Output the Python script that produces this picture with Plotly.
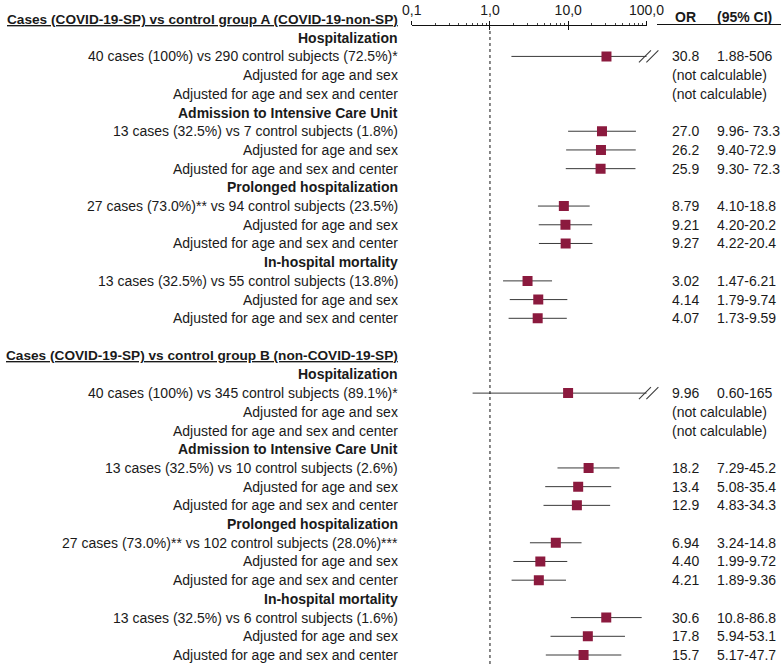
import plotly.graph_objects as go

# ---------------- data ----------------
row_labels = [
    "Cases (COVID-19-SP) vs control group A (COVID-19-non-SP)",
    "Hospitalization",
    "40 cases (100%) vs 290 control subjects (72.5%)*",
    "Adjusted for age and sex",
    "Adjusted for age and sex and center",
    "Admission to Intensive Care Unit",
    "13 cases (32.5%) vs 7 control subjects (1.8%)",
    "Adjusted for age and sex",
    "Adjusted for age and sex and center",
    "Prolonged hospitalization",
    "27 cases (73.0%)** vs 94 control subjects (23.5%)",
    "Adjusted for age and sex",
    "Adjusted for age and sex and center",
    "In-hospital mortality",
    "13 cases (32.5%) vs 55 control subjects (13.8%)",
    "Adjusted for age and sex",
    "Adjusted for age and sex and center",
    "",
    "Cases (COVID-19-SP) vs control group B (non-COVID-19-SP)",
    "Hospitalization",
    "40 cases (100%) vs 345 control subjects (89.1%)*",
    "Adjusted for age and sex",
    "Adjusted for age and sex and center",
    "Admission to Intensive Care Unit",
    "13 cases (32.5%) vs 10 control subjects (2.6%)",
    "Adjusted for age and sex",
    "Adjusted for age and sex and center",
    "Prolonged hospitalization",
    "27 cases (73.0%)** vs 102 control subjects (28.0%)***",
    "Adjusted for age and sex",
    "Adjusted for age and sex and center",
    "In-hospital mortality",
    "13 cases (32.5%) vs 6 control subjects (1.6%)",
    "Adjusted for age and sex",
    "Adjusted for age and sex and center",
]
# g = group header, s = section header, d = data row, b = blank
row_kinds = ["g", "s", "d", "d", "d", "s", "d", "d", "d", "s", "d", "d", "d", "s", "d", "d", "d",
             "b",
             "g", "s", "d", "d", "d", "s", "d", "d", "d", "s", "d", "d", "d", "s", "d", "d", "d"]

odds_ratio = [None, None, 30.8, None, None, None, 27.0, 26.2, 25.9, None, 8.79, 9.21, 9.27, None, 3.02, 4.14, 4.07,
              None,
              None, None, 9.96, None, None, None, 18.2, 13.4, 12.9, None, 6.94, 4.40, 4.21, None, 30.6, 17.8, 15.7]
ci_low = [None, None, 1.88, None, None, None, 9.96, 9.40, 9.30, None, 4.10, 4.20, 4.22, None, 1.47, 1.79, 1.73,
          None,
          None, None, 0.60, None, None, None, 7.29, 5.08, 4.83, None, 3.24, 1.99, 1.89, None, 10.8, 5.94, 5.17]
ci_high = [None, None, 506, None, None, None, 73.3, 72.9, 72.3, None, 18.8, 20.2, 20.4, None, 6.21, 9.74, 9.59,
           None,
           None, None, 165, None, None, None, 45.2, 35.4, 34.3, None, 14.8, 9.72, 9.36, None, 86.8, 53.1, 47.7]
or_text = ["", "", "30.8", "(not calculable)", "(not calculable)", "", "27.0", "26.2", "25.9", "", "8.79", "9.21", "9.27",
           "", "3.02", "4.14", "4.07",
           "",
           "", "", "9.96", "(not calculable)", "(not calculable)", "", "18.2", "13.4", "12.9", "", "6.94", "4.40",
           "4.21", "", "30.6", "17.8", "15.7"]
ci_text = ["", "", "1.88-506", "", "", "", "9.96- 73.3", "9.40-72.9", "9.30- 72.3", "", "4.10-18.8", "4.20-20.2",
           "4.22-20.4", "", "1.47-6.21", "1.79-9.74", "1.73-9.59",
           "",
           "", "", "0.60-165", "", "", "", "7.29-45.2", "5.08-35.4", "4.83-34.3", "", "3.24-14.8", "1.99-9.72",
           "1.89-9.36", "", "10.8-86.8", "5.94-53.1", "5.17-47.7"]

tick_vals = [0.1, 1, 10, 100]
tick_text = ["0,1", "1,0", "10,0", "100,0"]
x_min, x_max = 0.1, 100

# ---------------- layout constants ----------------
W, H = 781, 664
FONT = "Liberation Sans, Arial, Helvetica, sans-serif"
TXT = "#1a1a1a"
SQUARE = "#8b1a3e"
LINE = "#3a3a3a"
row_px0, row_step = 19.0, 18.706   # pixel y of first row, spacing
axis_px = 25.0                       # pixel y of the axis line
ax_left_px, ax_right_px = 411.7, 646.5
x_dom = [ax_left_px / W, ax_right_px / W]
label_right = 400.0 / W
or_left = 670.0 / W
ci_left = 715.0 / W

# full-width helper axis with the same log scale (for the "//" break marks beyond 100)
decade_px = (ax_right_px - ax_left_px) / 3.0
x3_range = [-1 - ax_left_px / decade_px, -1 + (W - ax_left_px) / decade_px]

n = len(row_labels)
rows = list(range(1, n + 1))
y_top = 1 - row_px0 / row_step
y_bot = 1 + (H - row_px0) / row_step

fig = go.Figure()

# CI whiskers
lx, ly = [], []
for r, lo, hi in zip(rows, ci_low, ci_high):
    if lo is None:
        continue
    lx += [lo, hi, None]
    ly += [r, r, None]
fig.add_trace(go.Scatter(x=lx, y=ly, mode="lines", line=dict(color=LINE, width=1),
                         hoverinfo="skip", showlegend=False))

# break marks ("//") where the CI exceeds the axis
bx, by = [], []
for r, hi in zip(rows, ci_high):
    if hi is not None and hi > x_max:
        bx += [x_max * 10 ** (-0.02), x_max * 10 ** 0.075]
        by += [r, r]
fig.add_trace(go.Scatter(x=bx, y=by, xaxis="x3", mode="markers",
                         marker=dict(symbol="line-ne", size=12, line=dict(color=LINE, width=1.1)),
                         hoverinfo="skip", showlegend=False))

# point estimates
px_, py_ = [], []
for r, o in zip(rows, odds_ratio):
    if o is not None:
        px_.append(o)
        py_.append(r)
fig.add_trace(go.Scatter(x=px_, y=py_, mode="markers",
                         marker=dict(symbol="square", size=10, color=SQUARE, line=dict(width=0)),
                         showlegend=False))

# invisible trace for overlay axis (downward part of major ticks)
fig.add_trace(go.Scatter(x=[1], y=[1], xaxis="x2", mode="markers", marker=dict(opacity=0),
                         hoverinfo="skip", showlegend=False))

annotations = []
for r, lab, kind, ot, ct in zip(rows, row_labels, row_kinds, or_text, ci_text):
    if lab:
        f = dict(family=FONT, size=14, color=TXT)
        text = lab
        if kind in ("g", "s"):
            text = "<b>" + lab + "</b>"
        if kind == "g":
            f["lineposition"] = "under"
            f["size"] = 13.65
        annotations.append(dict(x=label_right, xref="paper", y=r, yref="y", text=text,
                                xanchor="right", yanchor="middle", showarrow=False, font=f))
    if ot:
        annotations.append(dict(x=or_left, xref="paper", y=r, yref="y", text=ot,
                                xanchor="left", yanchor="middle", showarrow=False,
                                font=dict(family=FONT, size=14, color=TXT)))
    if ct:
        annotations.append(dict(x=ci_left, xref="paper", y=r, yref="y", text=ct,
                                xanchor="left", yanchor="middle", showarrow=False,
                                font=dict(family=FONT, size=14, color=TXT)))

hdr_y = 1 - 17.0 / H
annotations.append(dict(x=673.0 / W, xref="paper", y=hdr_y, yref="paper", text="<b>OR</b>",
                        xanchor="left", yanchor="middle", showarrow=False,
                        font=dict(family=FONT, size=14, color=TXT)))
annotations.append(dict(x=ci_left, xref="paper", y=hdr_y, yref="paper", text="<b>(95% CI)</b>",
                        xanchor="left", yanchor="middle", showarrow=False,
                        font=dict(family=FONT, size=14, color=TXT)))

axis_pos = 1 - axis_px / H
shapes = [
    dict(type="line", xref="x", yref="paper", x0=1, x1=1, y0=0, y1=1 - 27.5 / H,
         line=dict(color="#111", width=1, dash="dot")),
    dict(type="line", xref="paper", yref="paper", x0=657.0 / W, x1=1, y0=1 - 24.5 / H, y1=1 - 24.5 / H,
         line=dict(color="#111", width=1)),
]

fig.update_layout(
    width=W, height=H, autosize=False,
    margin=dict(l=0, r=0, t=0, b=0, pad=0),
    paper_bgcolor="white", plot_bgcolor="rgba(0,0,0,0)",
    showlegend=False,
    annotations=annotations,
    shapes=shapes,
    xaxis=dict(type="log", range=[-1, 2], domain=x_dom, side="top", anchor="free", position=axis_pos,
               automargin=False,
               tickvals=tick_vals, ticktext=tick_text, ticks="outside", ticklen=4, tickwidth=1,
               tickcolor="#111", showline=True, linecolor="#111", linewidth=1, showgrid=False,
               zeroline=False, tickfont=dict(family=FONT, size=14, color=TXT),
               minor=dict(ticks="outside", ticklen=2, tickwidth=1, tickcolor="#444", dtick="D1",
                          showgrid=False)),
    xaxis2=dict(type="log", range=[-1, 2], domain=x_dom, overlaying="x", side="top", anchor="free",
                position=axis_pos, automargin=False, tickvals=tick_vals, ticks="inside", ticklen=4,
                tickwidth=1, tickcolor="#111", showticklabels=False, showline=False, showgrid=False,
                zeroline=False),
    xaxis3=dict(type="log", range=x3_range, domain=[0, 1], anchor="y", visible=False,
                automargin=False, showgrid=False, zeroline=False),
    yaxis=dict(range=[y_bot, y_top], domain=[0, 1], visible=False, showgrid=False, zeroline=False,
               automargin=False),
    hovermode=False,
)

fig.write_html(
    "out.html",
    config={"displayModeBar": False, "staticPlot": True},
    post_script="document.body.style.margin='0';document.body.style.padding='0';",
)
